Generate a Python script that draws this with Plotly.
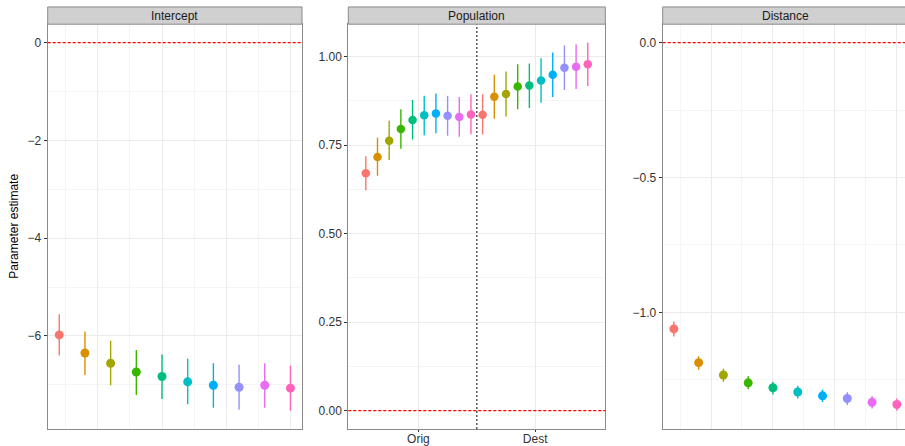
import plotly.graph_objects as go

W, H = 905, 446

# ---------------- data ----------------
colors = ["#F8766D", "#D89000", "#A3A500", "#39B600", "#00BF7D",
          "#00BFC4", "#00B0F6", "#9590FF", "#E76BF3", "#FF62BC"]
levels = list(range(1, 11))

intercept_est = [-5.98, -6.35, -6.56, -6.74, -6.83, -6.94, -7.01, -7.05, -7.01, -7.07]
intercept_lo = [-6.40, -6.80, -7.01, -7.21, -7.29, -7.40, -7.47, -7.51, -7.47, -7.53]
intercept_hi = [-5.56, -5.91, -6.10, -6.29, -6.38, -6.47, -6.56, -6.59, -6.56, -6.61]

pop_groups = ["Orig", "Dest"]
pop_orig_est = [0.671, 0.717, 0.763, 0.796, 0.821, 0.835, 0.840, 0.833, 0.830, 0.837]
pop_orig_lo = [0.623, 0.664, 0.708, 0.740, 0.766, 0.778, 0.784, 0.777, 0.774, 0.781]
pop_orig_hi = [0.719, 0.771, 0.819, 0.852, 0.878, 0.890, 0.896, 0.889, 0.886, 0.894]
pop_dest_est = [0.836, 0.887, 0.895, 0.916, 0.919, 0.933, 0.949, 0.969, 0.972, 0.979]
pop_dest_lo = [0.780, 0.825, 0.831, 0.852, 0.855, 0.870, 0.886, 0.906, 0.909, 0.917]
pop_dest_hi = [0.894, 0.949, 0.958, 0.979, 0.981, 0.996, 1.012, 1.032, 1.035, 1.040]

dist_est = [-1.061, -1.186, -1.232, -1.261, -1.279, -1.295, -1.309, -1.319, -1.333, -1.341]
dist_lo = [-1.089, -1.212, -1.257, -1.285, -1.304, -1.319, -1.332, -1.343, -1.356, -1.364]
dist_hi = [-1.034, -1.162, -1.209, -1.236, -1.257, -1.272, -1.286, -1.296, -1.310, -1.319]

panel_titles = ["Intercept", "Population", "Distance"]
y_title = "Parameter estimate"

# ---------------- layout geometry (pixels) ----------------
FONT = "Liberation Sans, Arial, sans-serif"
panel_px = [(47.7, 302.0), (348.3, 605.3), (662.7, 908.0)]
top_px, bot_px = 24.3, 431.0
strip_top_px = 7.0

def px_x(p):
    return p / W

def px_y(p):
    return 1 - p / H

ydom = [px_y(bot_px), px_y(top_px)]

fig = go.Figure()

def add_points(xs, ys, los, his, col, xa, ya, size):
    fig.add_trace(go.Scatter(
        x=xs, y=ys, xaxis=xa, yaxis=ya, mode="markers",
        marker=dict(color=col, size=size, line=dict(width=0)),
        error_y=dict(type="data", symmetric=False,
                     array=[h - y for h, y in zip(his, ys)],
                     arrayminus=[y - l for y, l in zip(ys, los)],
                     color=col, thickness=1.4, width=0),
        showlegend=False, hoverinfo="skip"))

# Intercept
for i, c in enumerate(colors):
    add_points([levels[i]], [intercept_est[i]], [intercept_lo[i]], [intercept_hi[i]],
               c, "x", "y", 9)

# Population (dodged within Orig / Dest)
n = len(levels)
dodge = [(i - (n - 1) / 2) * (1.0 / n) for i in range(n)]
for i, c in enumerate(colors):
    xs = [1 + dodge[i], 2 + dodge[i]]
    add_points(xs, [pop_orig_est[i], pop_dest_est[i]],
               [pop_orig_lo[i], pop_dest_lo[i]],
               [pop_orig_hi[i], pop_dest_hi[i]], c, "x2", "y2", 8.5)

# Distance
for i, c in enumerate(colors):
    add_points([levels[i]], [dist_est[i]], [dist_lo[i]], [dist_hi[i]],
               c, "x3", "y3", 9)

def yrange(lo, hi):
    a, b = min(min(lo), 0), max(max(hi), 0)
    p = (b - a) * 0.05
    return [a - p, b + p]

grid_major = "#EBEBEB"
grid_minor = "#F5F5F5"
line_col = "#8A8A8A"
tick_font = dict(family=FONT, size=12, color="#333333")

xr = [1 - 0.05 * 9, 10 + 0.05 * 9]
# third panel is cut by the window edge
xr3_end = xr[0] + (xr[1] - xr[0]) * (W - panel_px[2][0]) / (panel_px[2][1] - panel_px[2][0])

common_x = dict(showgrid=True, gridcolor=grid_major, gridwidth=1, zeroline=False,
                showline=True, linecolor=line_col, linewidth=1)
common_y = dict(showgrid=True, gridcolor=grid_major, gridwidth=1, zeroline=False,
                showline=True, linecolor=line_col, linewidth=1,
                ticks="outside", ticklen=3, tickwidth=1, tickcolor="#333333",
                tickfont=tick_font, domain=ydom)

fig.update_layout(
    width=W, height=H, margin=dict(l=0, r=0, t=0, b=0),
    paper_bgcolor="white", plot_bgcolor="white",
    font=dict(family=FONT, size=12, color="#333333"),
    xaxis=dict(common_x, domain=[px_x(panel_px[0][0]), px_x(panel_px[0][1])],
               range=xr, tick0=0, dtick=2.5, showticklabels=False, ticks="",
               mirror=True, anchor="y",
               minor=dict(dtick=1.25, tick0=0, showgrid=True, gridcolor=grid_minor, gridwidth=0.6)),
    yaxis=dict(common_y, range=yrange(intercept_lo, intercept_hi), tick0=0, dtick=2,
               mirror=True, anchor="x",
               minor=dict(dtick=1, tick0=0, showgrid=True, gridcolor=grid_minor, gridwidth=0.6)),
    xaxis2=dict(common_x, domain=[px_x(panel_px[1][0]), px_x(panel_px[1][1])],
                range=[0.4, 2.6], tickvals=[1, 2], ticktext=pop_groups,
                ticks="outside", ticklen=2, tickcolor="#333333", tickfont=tick_font,
                ticklabelstandoff=-3,
                mirror=True, anchor="y2"),
    yaxis2=dict(common_y, range=yrange(pop_orig_lo + pop_dest_lo, pop_orig_hi + pop_dest_hi),
                tick0=0, dtick=0.25, tickformat=".2f", mirror=True, anchor="x2",
                minor=dict(dtick=0.125, tick0=0, showgrid=True, gridcolor=grid_minor, gridwidth=0.6)),
    xaxis3=dict(common_x, domain=[px_x(panel_px[2][0]), 1.0],
                range=[xr[0], xr3_end], tick0=0, dtick=2.5, showticklabels=False, ticks="",
                mirror=True, anchor="y3",
                minor=dict(dtick=1.25, tick0=0, showgrid=True, gridcolor=grid_minor, gridwidth=0.6)),
    yaxis3=dict(common_y, range=yrange(dist_lo, dist_hi), tick0=0, dtick=0.5,
                tickformat=".1f", mirror=False, anchor="x3",
                minor=dict(dtick=0.25, tick0=0, showgrid=True, gridcolor=grid_minor, gridwidth=0.6)),
)

shapes = []
# zero reference lines
for xa, ya in [("x", "y"), ("x2", "y2"), ("x3", "y3")]:
    shapes.append(dict(type="line", xref=f"{xa} domain", yref=ya, x0=0, x1=1, y0=0, y1=0,
                       line=dict(color="#FF0000", width=1.1, dash="3px,2px"), layer="above"))
# Orig / Dest separator
shapes.append(dict(type="line", xref="x2", yref="y2 domain", x0=1.5, x1=1.5, y0=0, y1=1,
                   line=dict(color="#555555", width=1.5, dash="2px,2px"), layer="above"))
# strips
for (l, r) in panel_px:
    shapes.append(dict(type="rect", xref="paper", yref="paper",
                       x0=px_x(l), x1=px_x(r), y0=px_y(top_px), y1=px_y(strip_top_px),
                       fillcolor="#D0D0D0", line=dict(color=line_col, width=1), layer="above"))
fig.update_layout(shapes=shapes)

ann = []
for (l, r), t in zip(panel_px, panel_titles):
    ann.append(dict(text=t, xref="paper", yref="paper", x=px_x((l + r) / 2),
                    y=px_y((top_px + strip_top_px) / 2), showarrow=False,
                    xanchor="center", yanchor="middle",
                    font=dict(family=FONT, size=12, color="#1A1A1A")))
ann.append(dict(text=y_title, xref="paper", yref="paper", x=px_x(14), y=px_y((top_px + bot_px) / 2),
                showarrow=False, textangle=-90, xanchor="center", yanchor="middle",
                font=dict(family=FONT, size=12, color="#000000")))
fig.update_layout(annotations=ann)

fig.write_html("out.html")
